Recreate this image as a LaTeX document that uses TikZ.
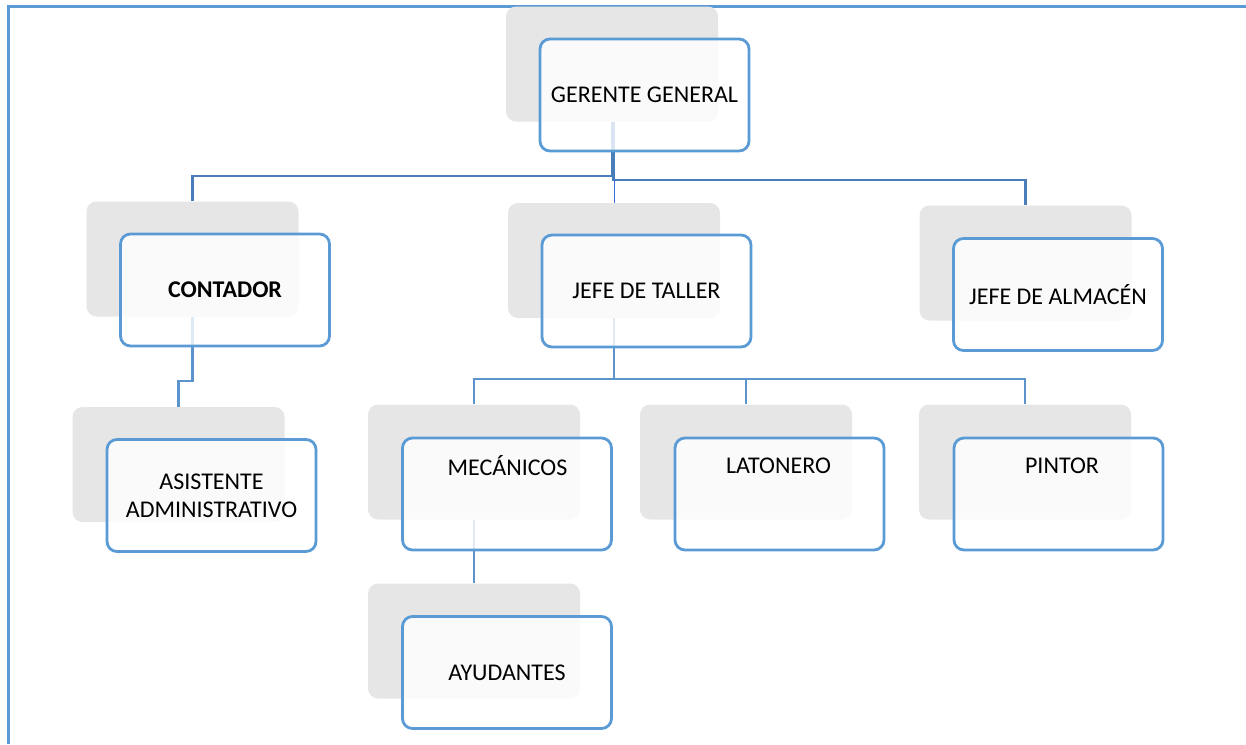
\documentclass[tikz,border=0pt]{standalone}
\usepackage{fontspec}
\setmainfont{Carlito}
\definecolor{boxblue}{HTML}{5B9BD5}
\definecolor{linkblue}{HTML}{4A7EBB}
\definecolor{lowblue}{HTML}{5B93CC}
\definecolor{shade}{HTML}{E6E6E6}
\definecolor{thinblue}{HTML}{3A6FD8}
\begin{document}
\begin{tikzpicture}[x=1pt,y=-1pt,
  shadowbox/.style={rectangle, rounded corners=10pt, minimum width=212pt,
    minimum height=115pt, fill=shade, inner sep=0pt},
  frontbox/.style={rectangle, rounded corners=10pt, minimum width=209pt,
    minimum height=112pt, draw=boxblue, line width=2.8pt, fill=white,
    fill opacity=0.8, draw opacity=1, text opacity=1, inner sep=0pt,
    align=center, font=\fontsize{24}{28}\selectfont},
  caption/.style={inner sep=0pt, align=center, font=\fontsize{24}{28}\selectfont},
  toplink/.style={draw=linkblue, line width=2.4pt},
  lowlink/.style={draw=lowblue, line width=2.4pt},
  hairlink/.style={draw=thinblue, line width=1pt},
  frame/.style={draw=boxblue, line width=3.5pt}
]
\useasboundingbox (0,0) rectangle (1246,744);

% outer frame (top and left edges)
\coordinate (fr1) at (1246,6.5);
\coordinate (fr2) at (8.5,6.5);
\coordinate (fr3) at (8.5,744);
\draw[frame] (fr1) -- (fr2) -- (fr3);

% grey backing cards
\node[shadowbox] (sgg)  at (612,64) {};
\node[shadowbox] (scon) at (192.5,259) {};
\node[shadowbox] (stal) at (614,260.5) {};
\node[shadowbox] (salm) at (1025.5,263) {};
\node[shadowbox] (sasi) at (178.5,464.5) {};
\node[shadowbox] (smec) at (474,462) {};
\node[shadowbox] (slat) at (746,462) {};
\node[shadowbox] (spin) at (1025,462) {};
\node[shadowbox] (sayu) at (474,641) {};

% connectors
\draw[toplink] (sgg.south) -- ++(0,54) -| (scon.north);
\draw[toplink] ([xshift=1.5pt]sgg.south) -- ++(0,58) -| (salm.north);
\draw[hairlink] (stal.north) -- ++(0,-24);
\draw[lowlink] (scon.south) -- ++(0,64) -| (sasi.north);
\draw[lowlink] (stal.south) -- ++(0,61) -| (smec.north);
\draw[lowlink] (stal.south) -- ++(0,61) -| (slat.north);
\draw[lowlink] (stal.south) -- ++(0,61) -| (spin.north);
\draw[lowlink] (smec.south) -- (sayu.north);

% front cards
\node[frontbox] (gg)  at (644.5,95) {GERENTE GENERAL};
\node[frontbox] (con) at (225,290) {\bfseries CONTADOR};
\node[frontbox] (tal) at (646.5,291) {JEFE DE TALLER};
\node[frontbox] (alm) at (1058,294.5) {JEFE DE ALMACÉN};
\node[frontbox] (asi) at (211.5,495.5) {ASISTENTE\\ADMINISTRATIVO};
\node[frontbox] (mec) at (507,494) {};
\node[frontbox] (lat) at (779.5,494) {};
\node[frontbox] (pin) at (1058.5,494) {};
\node[frontbox] (ayu) at (507,672.5) {AYUDANTES};

% captions set in the upper part of their cards
\node[caption] (tmec) at (507.5,466) {MECÁNICOS};
\node[caption] (tlat) at (778.5,466) {LATONERO};
\node[caption] (tpin) at (1062,466) {PINTOR};
\end{tikzpicture}
\end{document}
